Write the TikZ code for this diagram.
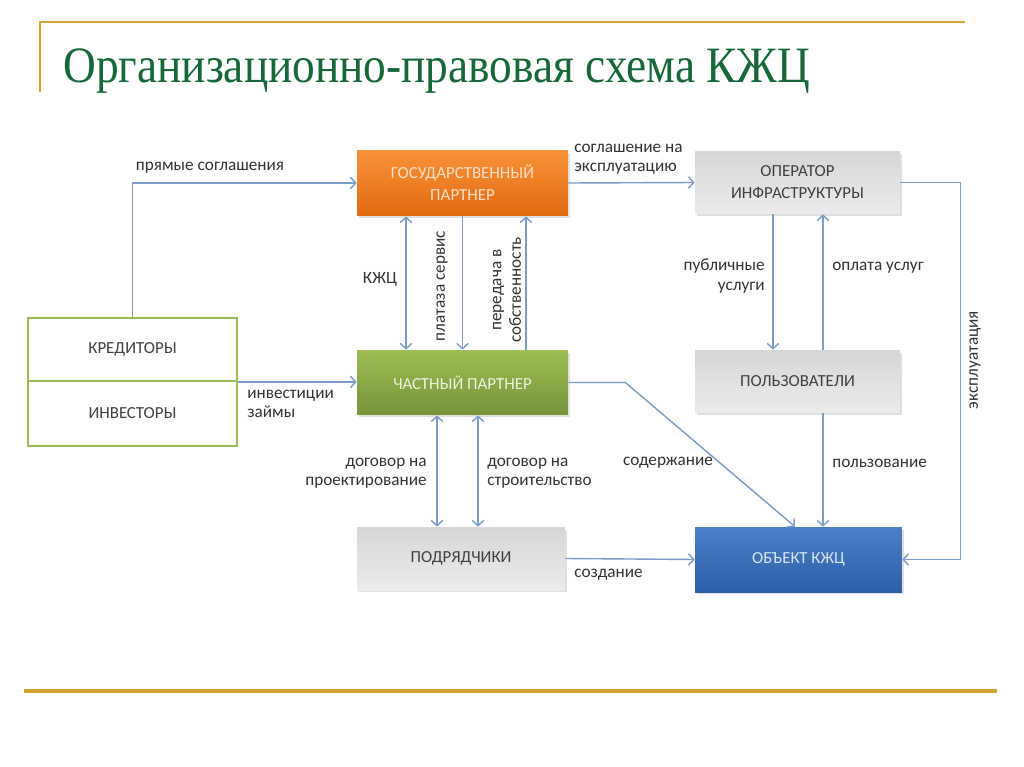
\documentclass[tikz,border=0pt]{standalone}
\usepackage{fontspec}
\setmainfont{Carlito}
\newfontfamily\titlefont{Liberation Serif}
\usepackage{tikz}
\usetikzlibrary{arrows.meta, positioning, shadows, calc}

\definecolor{gold}{RGB}{214,164,48}
\definecolor{titlegreen}{RGB}{22,104,56}
\definecolor{linkblue}{RGB}{122,156,200}
\definecolor{credgreen}{RGB}{155,187,89}
\definecolor{orTop}{RGB}{248,146,58}
\definecolor{orBot}{RGB}{226,106,16}
\definecolor{orText}{RGB}{252,222,196}
\definecolor{grTop}{RGB}{156,190,84}
\definecolor{grBot}{RGB}{118,148,58}
\definecolor{grText}{RGB}{236,244,222}
\definecolor{gyTop}{RGB}{214,214,214}
\definecolor{gyBot}{RGB}{236,236,236}
\definecolor{blTop}{RGB}{76,128,198}
\definecolor{blBot}{RGB}{44,96,166}
\definecolor{blText}{RGB}{214,228,246}

\begin{document}
\begin{tikzpicture}[x=0.02cm,y=-0.02cm,
    box/.style={rectangle, align=center, inner sep=2pt,
        font=\fontsize{9.6}{12.5}\selectfont,
        drop shadow={opacity=0.25, shadow xshift=0.04cm, shadow yshift=-0.05cm}},
    orangebox/.style={box, top color=orTop, bottom color=orBot, text=orText},
    greenbox/.style={box, top color=grTop, bottom color=grBot, text=grText},
    greybox/.style={box, top color=gyTop, bottom color=gyBot, text=black!75},
    bluebox/.style={box, top color=blTop, bottom color=blBot, text=blText},
    credbox/.style={rectangle, draw=credgreen, line width=1.1pt, minimum width=4.18cm,
        font=\fontsize{9.6}{12}\selectfont, text=black!75},
    link/.style={draw=linkblue, line width=0.8pt, >={Straight Barb[length=3pt,width=6.5pt]}},
    lbl/.style={font=\fontsize{9.8}{11}\selectfont, text=black!80, inner sep=0pt}]

    \fill[white] (0,0) rectangle (1024,767);
    \useasboundingbox (0,0) rectangle (1024,767);

    % frame and title
    \draw[gold, line width=1.1pt] (40,92) -- (40,22) -- (965,22);
    \draw[gold, line width=1.8pt] (24,691) -- (997,691);
    \node[anchor=base west, text=titlegreen, inner sep=0pt] (title) at (63,83)
        {\titlefont\fontsize{29}{34}\selectfont\scalebox{0.89}[1]{Организационно-правовая схема КЖЦ}};

    % boxes
    \node[orangebox, minimum width=4.22cm, minimum height=1.32cm] (gos) at (462.5,183) {ГОСУДАРСТВЕННЫЙ\\ПАРТНЕР};
    \node[greybox, minimum width=4.1cm, minimum height=1.26cm] (oper) at (797.5,182.5) {ОПЕРАТОР\\ИНФРАСТРУКТУРЫ};
    \node[credbox, minimum height=1.26cm] (kred) at (132.5,349.5) {КРЕДИТОРЫ};
    \node[credbox, minimum height=1.3cm] (inv) at (132.5,413.5) {ИНВЕСТОРЫ};
    \node[greenbox, minimum width=4.22cm, minimum height=1.3cm] (chast) at (462.5,382.5) {ЧАСТНЫЙ ПАРТНЕР};
    \node[greybox, minimum width=4.1cm, minimum height=1.26cm] (polz) at (797.5,381.5) {ПОЛЬЗОВАТЕЛИ};
    \node[greybox, minimum width=4.16cm, minimum height=1.26cm] (podr) at (461,558.5) {ПОДРЯДЧИКИ};
    \node[bluebox, minimum width=4.14cm, minimum height=1.3cm] (obj) at (798.5,559.5) {ОБЪЕКТ КЖЦ};

    % connectors
    \draw[link,->] (kred.north) |- (gos.west);
    \draw[link,->] (gos.east) -- (oper.west);
    \draw[link,->] (oper.east) -- ++(60,0) |- (obj.east);
    \draw[link,<->] ([xshift=-1.13cm]gos.south) -- ([xshift=-1.13cm]chast.north);
    \draw[link,->] (gos.south) -- (chast.north);
    \draw[link,->] ([xshift=1.27cm]chast.north) -- ([xshift=1.27cm]gos.south);
    \draw[link,->] (kred.south east) -- (kred.south east -| chast.west);
    \draw[link,->] (chast.east) -- ++(57,0) -- ([xshift=-0.07cm]obj.north);
    \draw[link,<->] ([xshift=-0.51cm]chast.south) -- ([xshift=-0.51cm]chast.south |- podr.north);
    \draw[link,<->] ([xshift=0.31cm]chast.south) -- ([xshift=0.31cm]chast.south |- podr.north);
    \draw[link,->] ([xshift=-0.49cm]oper.south) -- ([xshift=-0.49cm]oper.south |- polz.north);
    \draw[link,->] ([xshift=0.51cm]polz.north) -- ([xshift=0.51cm]polz.north |- oper.south);
    \draw[link,->] ([xshift=0.51cm]polz.south) -- ([xshift=0.51cm]polz.south |- obj.north);
    \draw[link,->] (podr.east) -- (obj.west);

    % labels
    \node[lbl] (lpryam) at (210,168) {прямые соглашения};
    \node[lbl, anchor=west, align=left] (lsogl) at (574,159) {соглашение на\\эксплуатацию};
    \node[lbl] (lkzc) at (380,279) {КЖЦ};
    \node[lbl, rotate=90] (lplata) at (442,286) {платаза сервис};
    \node[lbl, rotate=90, align=center] (lpered) at (507,290) {передача в\\собственность};
    \node[lbl, anchor=west, align=left] (linv) at (247,404) {инвестиции\\займы};
    \node[lbl, anchor=east, align=right] (lproekt) at (427,473) {договор на\\проектирование};
    \node[lbl, anchor=west, align=left] (lstroi) at (487,473) {договор на\\строительство};
    \node[lbl] (lsoder) at (668,463) {содержание};
    \node[lbl, anchor=east, align=right] (lpubl) at (765,276) {публичные\\услуги};
    \node[lbl, anchor=west] (loplata) at (832,268) {оплата услуг};
    \node[lbl, anchor=west] (lpolz) at (832,463) {пользование};
    \node[lbl, rotate=90] (lexpl) at (975,360) {эксплуатация};
    \node[lbl, anchor=west] (lsozd) at (574,575) {создание};
\end{tikzpicture}
\end{document}
